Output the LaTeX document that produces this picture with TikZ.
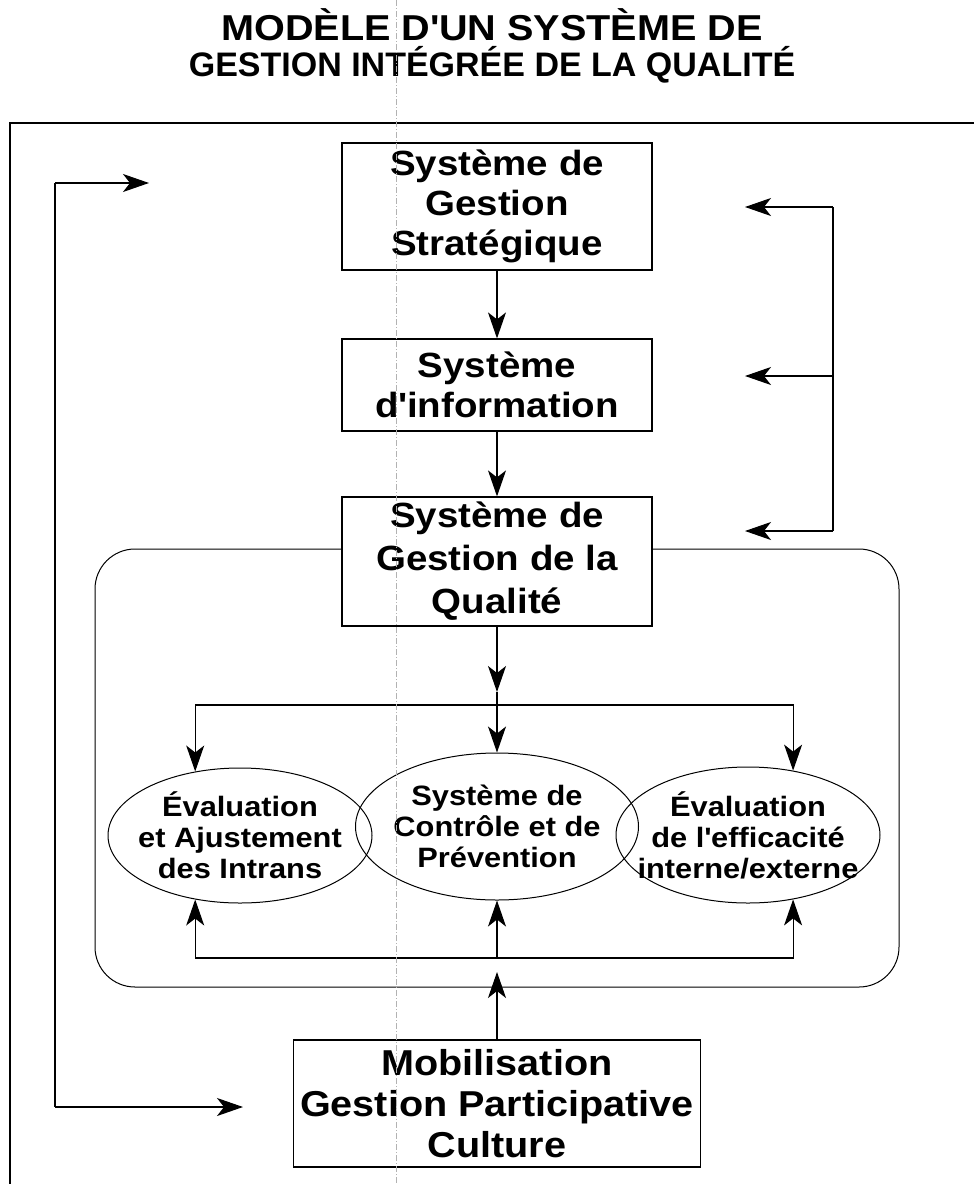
\documentclass[tikz,border=0pt]{standalone}
\usepackage{fontspec}
\setmainfont{Liberation Sans}[FakeStretch=1.1]
\newfontfamily\plainsans{Liberation Sans}
\usetikzlibrary{arrows.meta,shapes.geometric}

\tikzset{
  sysbox/.style={draw, line width=1.2pt, fill=white, inner sep=0pt,
    minimum width=310pt, align=center,
    font=\fontsize{35}{40}\selectfont\bfseries},
  evalell/.style={ellipse, draw, line width=1pt, inner sep=0pt},
  evaltext/.style={align=center, inner sep=0pt,
    font=\fontsize{28}{31}\selectfont\bfseries},
  flow/.style={line width=1.1pt, -{Stealth[length=26pt,width=18pt,inset=7pt]}},
  plain/.style={line width=1.1pt},
}

\begin{document}
\begin{tikzpicture}[x=1pt,y=-1pt]
\useasboundingbox (0,0) rectangle (974,1184);

% title and open frame
\node[align=center, inner sep=0pt, font=\fontsize{36}{36}\selectfont\bfseries]
  (title) at (492,46) {MOD\`ELE D\textquotesingle UN SYST\`EME DE\\{\plainsans\bfseries\fontsize{34}{36}\selectfont GESTION INT\'EGR\'EE DE LA QUALIT\'E}};
\draw[plain] (10,1184) -- (10,123) -- (974,123);

% quality loop
\draw[line width=1pt, rounded corners=40pt] (95,549) rectangle (899,987);

% main chain
\node[sysbox, minimum height=127pt] (strat) at (497,206.5) {Syst\`eme de\\Gestion\\Strat\'egique};
\node[sysbox, minimum height=92pt] (info) at (497,385) {Syst\`eme\\d\textquotesingle information};
\node[sysbox, minimum height=129pt, font=\fontsize{35}{43}\selectfont\bfseries]
  (qual) at (497,561.5) {Syst\`eme de\\Gestion de la\\Qualit\'e};
\node[sysbox, minimum width=407pt, minimum height=127pt,
  font=\fontsize{36}{41}\selectfont\bfseries] (mobil) at (497,1103.5)
  {Mobilisation\\Gestion Participative\\Culture};

\draw[flow] (strat.south) -- (info.north);
\draw[flow] (info.south) -- (qual.north);

% the three sub-systems
\node[evalell, minimum width=264pt, minimum height=135pt] (intrans) at (240,835.5) {};
\node[evalell, minimum width=283pt, minimum height=147pt] (controle) at (497,826.5) {};
\node[evalell, minimum width=264pt, minimum height=136pt] (efficacite) at (748,835) {};
\node[evaltext] (intransTxt) at (intrans) {\'Evaluation\\et Ajustement\\des Intrans};
\node[evaltext] (controleTxt) at (controle) {Syst\`eme de\\Contr\^ole et de\\Pr\'evention};
\node[evaltext] (efficaciteTxt) at (efficacite) {\'Evaluation\\de l\textquotesingle efficacit\'e\\interne/externe};

% top distribution
\coordinate (split) at (497,692);
\coordinate (hubTop) at (497,705);
\draw[flow] (qual.south) -- (split);
\draw[flow] (split) -- (controle.north);
\draw[flow] (hubTop) -| (intrans.125);
\draw[flow] (hubTop) -| (efficacite.55);

% bottom return
\coordinate (hubBot) at (497,958);
\coordinate (mobTip) at (497,972);
\draw[flow] (hubBot) -- (controle.south);
\draw[flow] (hubBot) -| (intrans.235);
\draw[flow] (hubBot) -| (efficacite.305);
\draw[flow] (mobil.north) -- (mobTip);

% right feedback
\coordinate (rTop) at (833,207);
\coordinate (rMid) at (833,376);
\coordinate (rBot) at (833,531);
\coordinate (toStrat) at (745,207);
\coordinate (toInfo) at (745,376);
\coordinate (toQual) at (745,531);
\draw[plain] (rTop) -- (rBot);
\draw[flow] (rTop) -- (toStrat);
\draw[flow] (rMid) -- (toInfo);
\draw[flow] (rBot) -- (toQual);

% left feedback
\coordinate (lTop) at (55,183);
\coordinate (lBot) at (55,1107);
\coordinate (toTop) at (149,183);
\coordinate (toMobil) at (243,1107);
\draw[plain] (lTop) -- (lBot);
\draw[flow] (lTop) -- (toTop);
\draw[flow] (lBot) -- (toMobil);

% fold mark of the scan
\draw[gray!60, line width=0.6pt, dash pattern=on 6pt off 2pt on 1pt off 2pt] (396,0) -- (396,1184);
\end{tikzpicture}
\end{document}
